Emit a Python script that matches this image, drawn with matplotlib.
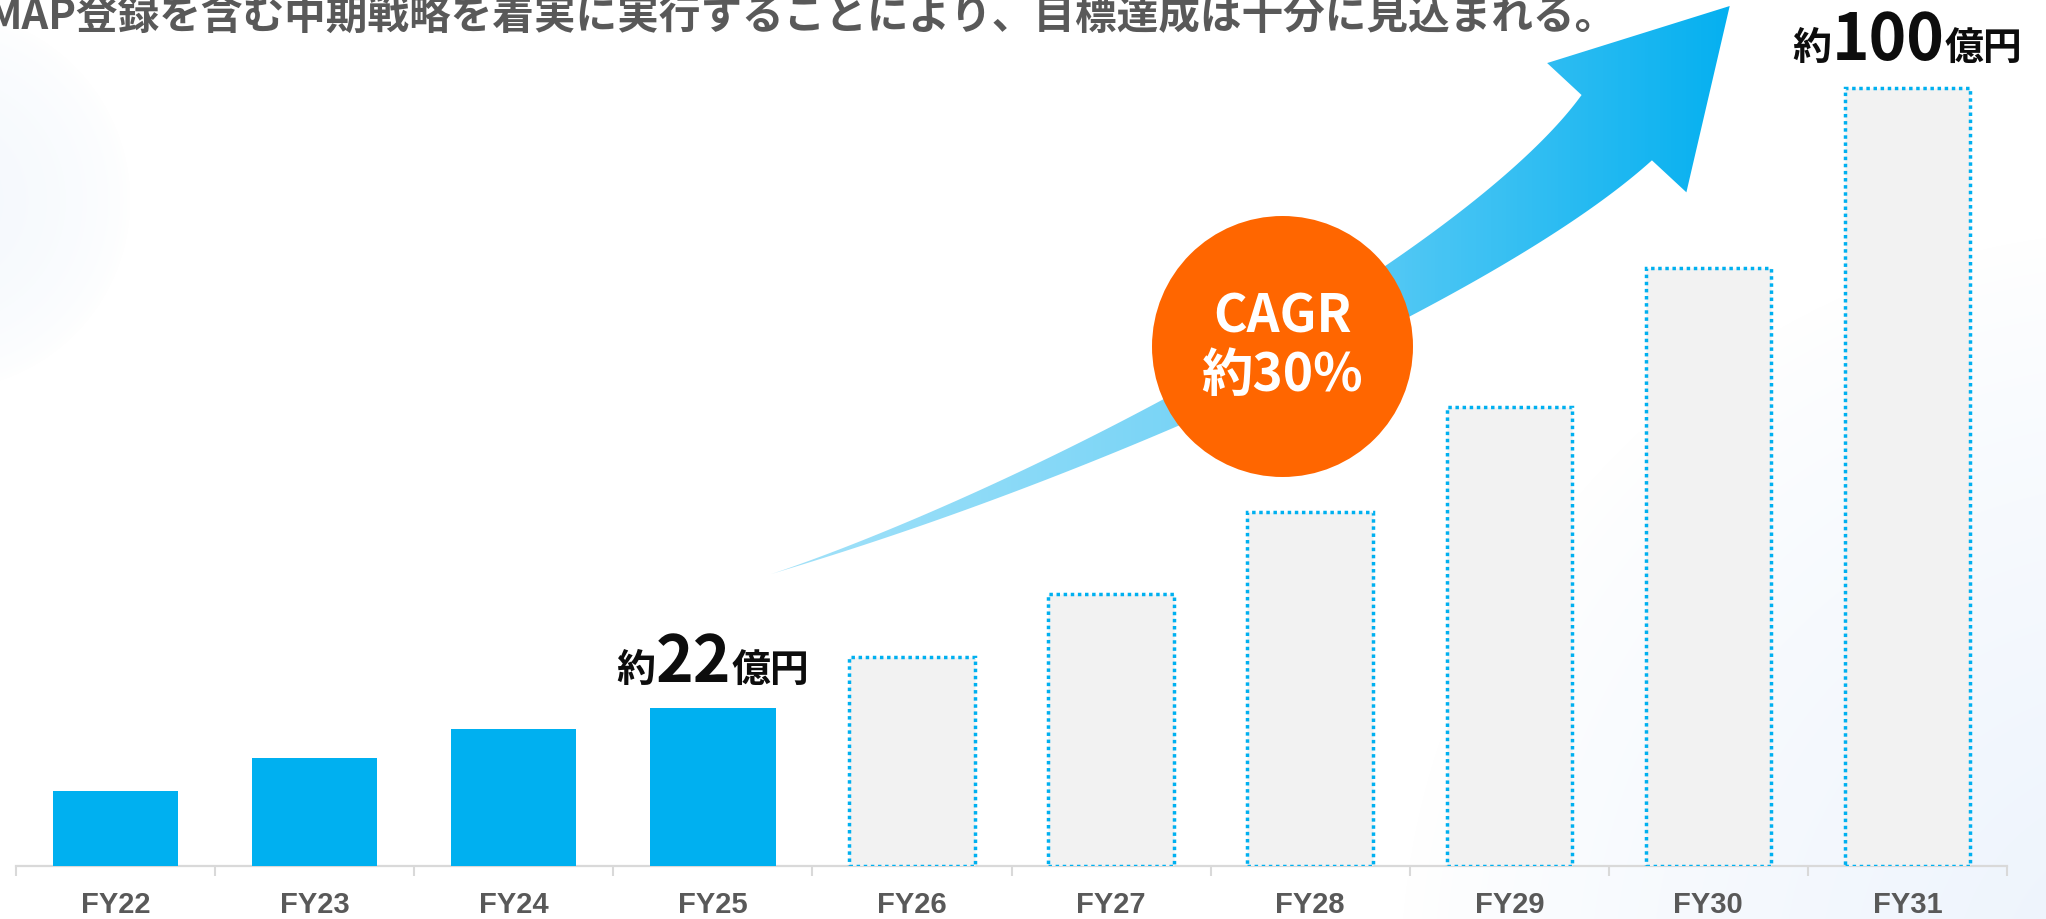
import numpy as np
import matplotlib
matplotlib.use("Agg")
import matplotlib.pyplot as plt
from matplotlib.colors import LinearSegmentedColormap
from matplotlib.patches import Polygon
from matplotlib.transforms import IdentityTransform

plt.rcParams["font.family"] = ["Noto Sans CJK JP", "DejaVu Sans"]

# ---- data (億円) ----
years = ["FY22", "FY23", "FY24", "FY25", "FY26", "FY27", "FY28", "FY29", "FY30", "FY31"]
sales = [9.7, 13.9, 17.6, 20.3, 26.8, 34.9, 45.5, 59.0, 76.8, 100.0]
is_plan = [False, False, False, False, True, True, True, True, True, True]

label_fy25 = ["約", "22", "億円"]
label_fy31 = ["約", "100", "億円"]
cagr_text = "CAGR\n約30%"
headline = "MAP登録を含む中期戦略を着実に実行することにより、目標達成は十分に見込まれる。"

# growth arrow centre line (cubic bezier control points, data coords)
arrow_ctrl_x = [3.29, 4.79, 6.86, 7.54]
arrow_ctrl_y = [37.5, 49.7, 76.0, 94.9]
cagr_pos = (5.86, 66.8)

BLUE = "#00b0f0"
GREY_TXT = "#595959"
AXIS_GREY = "#d9d9d9"

W, H = 2046, 919
fig = plt.figure(figsize=(W / 100, H / 100), dpi=100)

# soft background tint
bg = fig.add_axes([0, 0, 1, 1], zorder=0)
yy, xx = np.mgrid[0:H, 0:W]
img = np.ones((H, W, 3))
d1 = np.hypot(xx + 60, yy - 200) / 190.0
a1 = np.clip(1 - d1, 0, 1) ** 0.6 * 0.75
d2 = np.hypot(xx - 2150, yy - 980) / 750.0
a2 = np.clip(1 - d2, 0, 1) ** 0.8
tint1 = np.array([0.94, 0.962, 0.99])
tint2 = np.array([0.925, 0.953, 0.99])
for a, tint in ((a1, tint1), (a2, tint2)):
    img = img * (1 - a[..., None]) + tint * a[..., None]
bg.imshow(img, extent=[0, W, H, 0], aspect="auto")
bg.set_axis_off()

# main bar axes
base_px = 866
ax = fig.add_axes([16 / W, (H - base_px) / H, 1991 / W, base_px / H], zorder=2)
ax.patch.set_alpha(0)
ax.set_xlim(-0.5, 9.5)
ax.set_ylim(0, base_px / 7.78)

x = np.arange(len(years))
vals = np.array(sales)
plan = np.array(is_plan)
ax.bar(x[~plan], vals[~plan], width=0.63, color=BLUE, zorder=3)
plan_bars = ax.bar(x[plan], vals[plan], width=0.63, facecolor="#f2f2f2",
                   edgecolor=BLUE, linewidth=2.5, linestyle=(0, (1, 1.05)), zorder=3)
for b in plan_bars:
    b.set_capstyle("butt")

for s in ["top", "right", "left"]:
    ax.spines[s].set_visible(False)
ax.spines["bottom"].set_color(AXIS_GREY)
ax.spines["bottom"].set_linewidth(1.6)
ax.set_yticks([])
ax.set_xticks(x)
ax.set_xticklabels(years, fontfamily="Liberation Sans", fontweight="bold",
                   fontsize=21, color=GREY_TXT)
ax.tick_params(axis="x", which="major", length=0, pad=18)
ax.set_xticks(np.arange(-0.5, 10, 1.0), minor=True)
ax.tick_params(axis="x", which="minor", length=7.5, width=1.5, color=AXIS_GREY)

# ---- growth arrow ----
fig.canvas.draw()
renderer = fig.canvas.get_renderer()
ctrl = ax.transData.transform(np.column_stack([arrow_ctrl_x, arrow_ctrl_y]))
t = np.linspace(0, 1, 200)[:, None]
p0, p1, p2, p3 = ctrl
centre = ((1 - t) ** 3) * p0 + 3 * ((1 - t) ** 2) * t * p1 + 3 * (1 - t) * t ** 2 * p2 + t ** 3 * p3
tang = np.gradient(centre, axis=0)
tang /= np.linalg.norm(tang, axis=1)[:, None]
normal = np.column_stack([-tang[:, 1], tang[:, 0]])
half = 48 * t[:, 0] ** 1.3
left = centre + normal * half[:, None]
right = centre - normal * half[:, None]
u, n, base = tang[-1], normal[-1], centre[-1]
head = [base + n * 95, base + u * 166, base - n * 95]
poly_px = np.vstack([left, head, right[::-1]])
poly = ax.transData.inverted().transform(poly_px)
patch = Polygon(poly, closed=True, facecolor="none", edgecolor="none")
ax.add_patch(patch)
cmap = LinearSegmentedColormap.from_list("arrow", ["#a3e2f9", "#72d2f6", "#05b0f0"])
xmin, ymin = poly.min(axis=0)
xmax, ymax = poly.max(axis=0)
grad = np.tile(np.linspace(0, 1, 256), (16, 1))
im = ax.imshow(grad, cmap=cmap, extent=[xmin, xmax, ymin, ymax], aspect="auto",
               origin="lower", zorder=4)
im.set_clip_path(patch)
ax.set_xlim(-0.5, 9.5)
ax.set_ylim(0, base_px / 7.78)

# ---- CAGR badge ----
r_px = 130.5
ax.scatter([cagr_pos[0]], [cagr_pos[1]], s=(2 * r_px * 0.72) ** 2, color="#ff6600",
           linewidths=0, zorder=6, clip_on=False)
ax.text(cagr_pos[0], cagr_pos[1], cagr_text, ha="center", va="center", color="white",
        fontsize=37, fontweight="bold", linespacing=1.15, zorder=7)


# ---- value labels over FY25 and FY31 ----
def value_label(xi, top, pieces, sizes, gap=26):
    cx, cy = ax.transData.transform((xi, top))
    items = []
    for s, fs in zip(pieces, sizes):
        txt = fig.text(0, 0, s, fontsize=fs, fontweight="bold", color="#0d0d0d",
                       transform=IdentityTransform(), va="baseline", ha="left", zorder=8)
        items.append((txt, txt.get_window_extent(renderer).width))
    x0 = cx - sum(w for _, w in items) / 2
    for txt, w in items:
        txt.set_position((x0, cy + gap))
        x0 += w


value_label(3, sales[3], label_fy25, [28, 46, 28])
value_label(9, sales[9], label_fy31, [28, 46, 28], gap=28)

# ---- headline (cut by the top edge as in the slide) ----
fig.text(1616 / W, (H - 29) / H, headline, ha="right", va="baseline", fontsize=30,
         fontweight="bold", color=GREY_TXT)

fig.savefig("out.png", dpi=100)
